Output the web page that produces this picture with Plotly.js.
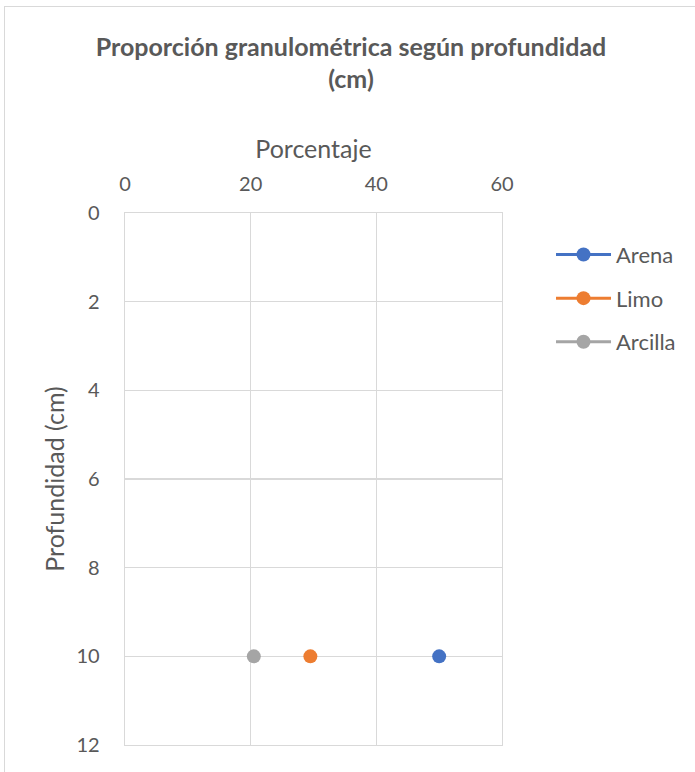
<!DOCTYPE html>
<html>
<head>
<meta charset="utf-8">
<script src="https://cdn.plot.ly/plotly-3.0.1.min.js"></script>
<style>
  html, body { margin: 0; padding: 0; background: #ffffff; }
  #frame { position: absolute; left: 0; top: 0; width: 695px; height: 772px; overflow: hidden; }
  #border { position: absolute; left: 4px; top: 6px; width: 700px; height: 780px;
            border-left: 1px solid #d9d9d9; border-top: 1px solid #d9d9d9; pointer-events: none; }
  #chart { position: absolute; left: 0; top: 0; width: 695px; height: 772px; }
</style>
</head>
<body>
<div id="frame">
  <div id="chart"></div>
  <div id="border"></div>
</div>
<script>
// Grain-size fractions (%) measured at each depth (cm)
const seriesNames = ['Arena', 'Limo', 'Arcilla'];
const depths = [10];
const arena = [50];
const limo = [29.5];
const arcilla = [20.5];
const colors = ['#4472c4', '#ed7d31', '#a5a5a5'];
const xTicks = [0, 20, 40, 60];
const yTicks = [0, 2, 4, 6, 8, 10, 12];

const valuesBySeries = [arena, limo, arcilla];
const textColor = '#595959';
const gridColor = '#d9d9d9';
const fontFamily = 'Lato, "Open Sans", sans-serif';

const traces = seriesNames.map((name, i) => ({
  type: 'scatter',
  mode: 'lines+markers',
  name: name,
  x: valuesBySeries[i],
  y: depths,
  legendgroup: name,
  line: { color: colors[i], width: 3 },
  marker: { color: colors[i], size: 14 },
  cliponaxis: false
}));

const layout = {
  width: 695,
  height: 772,
  paper_bgcolor: '#ffffff',
  plot_bgcolor: '#ffffff',
  margin: { l: 125, r: 193, t: 213, b: 27 },
  font: { family: fontFamily, color: textColor, size: 20 },
  title: {
    text: '<b>Proporción granulométrica según profundidad<br>(cm)</b>',
    font: { family: fontFamily, size: 25, color: textColor },
    x: 0.505, xref: 'container', xanchor: 'center',
    y: 0.928, yref: 'container', yanchor: 'middle'
  },
  xaxis: {
    side: 'top',
    range: [0, 60],
    tickvals: xTicks,
    ticktext: xTicks.map(String),
    showgrid: true,
    gridcolor: gridColor,
    gridwidth: 1.3,
    showline: true,
    linecolor: gridColor,
    linewidth: 1.3,
    mirror: true,
    zeroline: false,
    ticks: '',
    ticklabelstandoff: 13,
    tickfont: { size: 20, color: textColor },
    title: { text: 'Porcentaje', font: { size: 25, color: textColor }, standoff: 5 }
  },
  yaxis: {
    range: [12, 0],
    tickvals: yTicks,
    ticktext: yTicks.map(String),
    showgrid: true,
    gridcolor: gridColor,
    gridwidth: 1.3,
    showline: true,
    linecolor: gridColor,
    linewidth: 1.3,
    mirror: true,
    zeroline: false,
    ticks: '',
    ticklabelstandoff: 20,
    tickfont: { size: 20, color: textColor },
    title: { text: 'Profundidad (cm)', font: { size: 25, color: textColor }, standoff: 4 }
  },
  legend: {
    x: 1.13, xanchor: 'left',
    y: 0.961, yanchor: 'top',
    font: { size: 22, color: textColor },
    tracegroupgap: 12,
    itemwidth: 55,
    bgcolor: 'rgba(0,0,0,0)'
  },
  showlegend: true
};

Plotly.newPlot('chart', traces, layout, { displayModeBar: false, staticPlot: true }).then(gd => {
  // widen the legend line samples and centre the marker on them
  gd.querySelectorAll('.legend .legendlines path').forEach(p => p.setAttribute('d', 'M5,0h55'));
  gd.querySelectorAll('.legend .legendpoints path').forEach(p => p.setAttribute('transform', 'translate(32.5,0)'));
});
</script>
</body>
</html>
